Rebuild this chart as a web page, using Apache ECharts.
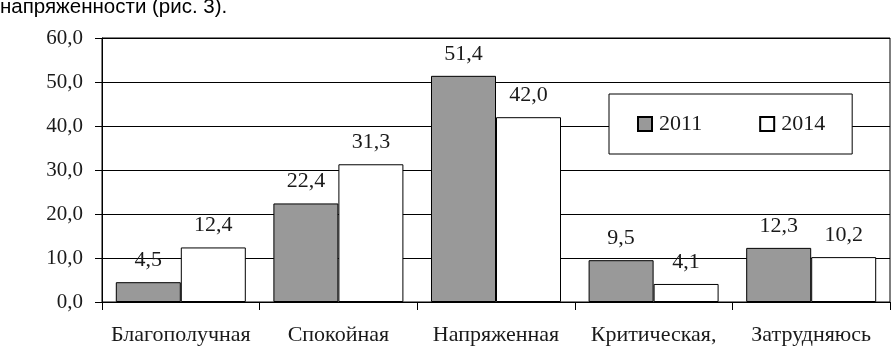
<!DOCTYPE html>
<html><head><meta charset="utf-8">
<script src="https://cdn.jsdelivr.net/npm/echarts@6/dist/echarts.min.js"></script>
<style>html,body{margin:0;padding:0;background:#fff}#c{width:891px;height:349px}</style>
</head><body><div id="c"></div>
<script>
const categories = ['Благополучная','Спокойная','Напряженная','Критическая,','Затрудняюсь'];
const values2011 = [4.5, 22.4, 51.4, 9.5, 12.3];
const values2014 = [12.4, 31.3, 42.0, 4.1, 10.2];
const seriesNames = ['2011','2014'];
const titleText = 'напряженности (рис. 3).';

const serif = '"Liberation Serif", "DejaVu Serif", serif';
const fmt = v => v.toFixed(1).replace('.', ',');
const chart = echarts.init(document.getElementById('c'));
const labelCfg = {show:true, position:'top', distance:11, fontFamily:serif, fontSize:22, color:'#1a1a1a',
  formatter: p => fmt(p.value)};
chart.setOption({
  animation:false,
  backgroundColor:'#fff',
  title:{text:titleText, left:0, top:-3, padding:0,
    textStyle:{fontFamily:'"Liberation Sans", Arial, sans-serif', fontSize:20.5, fontWeight:'normal', color:'#000'}},
  grid:{left:102, right:1, top:38, bottom:47, show:true, borderColor:'#000', borderWidth:1, backgroundColor:'transparent'},
  legend:{left:609, top:94, orient:'horizontal', backgroundColor:'#fff', borderColor:'#000', borderWidth:1,
    padding:[19,27,19,28], itemGap:57, itemWidth:14, itemHeight:14,
    textStyle:{fontFamily:serif, fontSize:22, color:'#1a1a1a', lineHeight:22, padding:[0,0,0,2]},
    data:[{name:seriesNames[0], icon:'rect'},{name:seriesNames[1], icon:'rect'}]},
  xAxis:{type:'category', data:categories,
    axisLine:{lineStyle:{color:'#000', width:1}},
    axisTick:{show:true, length:8, alignWithLabel:false, lineStyle:{color:'#000'}},
    axisLabel:{interval:0, margin:22, fontFamily:serif, fontSize:22, color:'#1a1a1a'}},
  yAxis:{type:'value', min:0, max:60, interval:10,
    axisLine:{show:true, lineStyle:{color:'#000'}},
    axisTick:{show:true, length:7, lineStyle:{color:'#000'}},
    splitLine:{show:true, lineStyle:{color:'#000', width:1}},
    axisLabel:{margin:19, fontFamily:serif, fontSize:21, color:'#1a1a1a', formatter: v => fmt(v)}},
  series:[
    {name:seriesNames[0], type:'bar', data:values2011, barWidth:65, barGap:'0%',
      itemStyle:{color:'#999999', borderColor:'#000', borderWidth:1}, label:labelCfg},
    {name:seriesNames[1], type:'bar', data:values2014, barWidth:65, barGap:'0%',
      itemStyle:{color:'#ffffff', borderColor:'#000', borderWidth:1}, label:labelCfg}
  ]
});
</script></body></html>
